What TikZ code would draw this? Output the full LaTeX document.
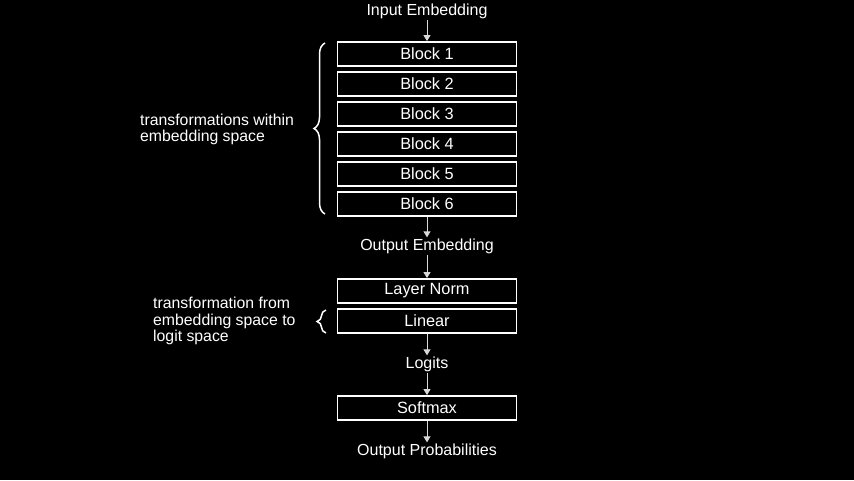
\documentclass[tikz,border=0pt]{standalone}
\usepackage{fontspec}
\setmainfont{Liberation Sans}
\usetikzlibrary{arrows.meta,decorations.pathreplacing}
\begin{document}
\begin{tikzpicture}[x=1pt,y=-1pt,
  box/.style={draw=white,line width=1.8pt,minimum width=179pt,minimum height=24pt,inner sep=0pt,text=white,font=\fontsize{16.3}{18}\selectfont},
  lbl/.style={text=white,inner sep=1pt,font=\fontsize{16}{18}\selectfont},
  side/.style={text=white,align=left,inner sep=0pt,font=\fontsize{15.8}{16.3}\selectfont},
  flow/.style={draw=black!15,line width=1pt,-{Triangle[length=6pt,width=7pt]}},
  brc/.style={draw=white,line width=1.5pt,decorate,decoration={brace,amplitude=11pt}}]
\fill[black] (0,0) rectangle (854,480);
\useasboundingbox (0,0) rectangle (854,480);
\node[lbl] (in) at (427,11) {Input Embedding};
\node[box] (b1) at (427,54) {Block 1};
\node[box] (b2) at (427,84) {Block 2};
\node[box] (b3) at (427,114) {Block 3};
\node[box] (b4) at (427,144) {Block 4};
\node[box] (b5) at (427,174) {Block 5};
\node[box] (b6) at (427,204) {Block 6};
\node[lbl] (oe) at (427,246) {Output Embedding};
\node[box] (ln) at (427,291) {Layer Norm};
\node[box] (lin) at (427,321) {Linear};
\node[lbl] (lg) at (427,364) {Logits};
\node[box] (sm) at (427,408) {Softmax};
\node[lbl] (op) at (427,451) {Output Probabilities};
\draw[flow] (in) -- (b1);
\draw[flow] (b6) -- (oe);
\draw[flow] (oe) -- (ln);
\draw[flow] (lin) -- (lg);
\draw[flow] (lg) -- (sm);
\draw[flow] (sm) -- (op);
\coordinate (br1a) at (325,214);
\coordinate (br1b) at (325,43);
\draw[brc] (br1a) -- (br1b);
\coordinate (br2a) at (326,333);
\coordinate (br2b) at (326,310);
\draw[brc,decoration={brace,amplitude=9pt}] (br2a) -- (br2b);
\node[side,anchor=west] (t1) at (140,129.5) {transformations within\\embedding space};
\node[side,anchor=west] (t2) at (153,321) {transformation from\\embedding space to\\logit space};
\end{tikzpicture}
\end{document}
